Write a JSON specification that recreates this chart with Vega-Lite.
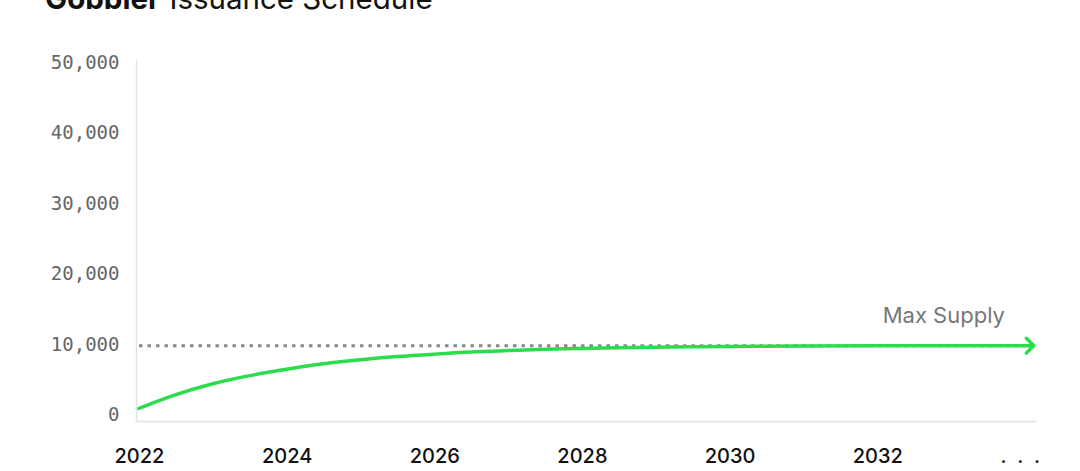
{
  "$schema": "https://vega.github.io/schema/vega-lite/v6.json",
  "width": 900,
  "height": 361,
  "autosize": {"type": "none"},
  "padding": {"left": 136, "top": 60, "right": 44, "bottom": 50},
  "background": "white",
  "config": {"view": {"stroke": null}},
  "title": {
    "text": "Gobbler",
    "subtitle": "\u200b\u00a0\u00a0\u00a0\u00a0\u00a0\u00a0\u00a0\u00a0\u00a0\u00a0\u00a0\u00a0\u00a0\u00a0\u00a0Issuance Schedule",
    "anchor": "start",
    "frame": "group",
    "dx": -91,
    "offset": 38,
    "font": "Inter",
    "fontSize": 29.5,
    "fontWeight": "bold",
    "color": "#111111",
    "subtitleFont": "Inter",
    "subtitleFontSize": 29.5,
    "subtitleFontWeight": "normal",
    "subtitleColor": "#111111",
    "subtitlePadding": -29.5
  },
  "datasets": {
    "curve": [
      {"year": 2022.0, "gobblers": 1100},
      {"year": 2022.5, "gobblers": 3050},
      {"year": 2023.0, "gobblers": 4600},
      {"year": 2023.5, "gobblers": 5750},
      {"year": 2024.0, "gobblers": 6650},
      {"year": 2024.5, "gobblers": 7420},
      {"year": 2025.0, "gobblers": 8000},
      {"year": 2025.5, "gobblers": 8450},
      {"year": 2026.0, "gobblers": 8800},
      {"year": 2026.5, "gobblers": 9100},
      {"year": 2027.0, "gobblers": 9300},
      {"year": 2027.5, "gobblers": 9480},
      {"year": 2028.0, "gobblers": 9600},
      {"year": 2028.5, "gobblers": 9700},
      {"year": 2029.0, "gobblers": 9780},
      {"year": 2029.5, "gobblers": 9840},
      {"year": 2030.0, "gobblers": 9890},
      {"year": 2031.0, "gobblers": 9950},
      {"year": 2032.0, "gobblers": 9990},
      {"year": 2034.1, "gobblers": 10000}
    ],
    "maxsupply": [
      {"start": 2022.0, "end": 2034.1, "supply": 10000, "label": "Max Supply", "labelYear": 2033.73}
    ],
    "arrow": [
      {"year": 2034.12, "gobblers": 10000}
    ]
  },
  "layer": [
    {
      "data": {"name": "maxsupply"},
      "mark": {"type": "rule", "color": "#888888", "strokeWidth": 3, "strokeDash": [3.5, 5]},
      "encoding": {
        "x": {
          "field": "start",
          "type": "quantitative",
          "scale": {"domain": [2021.96, 2034.15], "nice": false, "zero": false},
          "axis": {
            "values": [2022, 2024, 2026, 2028, 2030, 2032, 2033.93],
            "labelExpr": "datum.value > 2033 ? '.\u00a0\u00a0.\u00a0\u00a0.' : format(datum.value, 'd')",
            "title": null,
            "grid": false,
            "ticks": false,
            "domainColor": "#e2e2e2",
            "domainWidth": 1.5,
            "labelFont": "Inter",
            "labelFontSize": 20,
            "labelFontWeight": 500,
            "labelColor": "#111111",
            "labelPadding": 25,
            "labelBaseline": "top",
            "labelFlush": false,
            "labelOverlap": false
          }
        },
        "x2": {"field": "end"},
        "y": {
          "field": "supply",
          "type": "quantitative",
          "scale": {"domain": [-700, 50580], "nice": false, "zero": false},
          "axis": {
            "values": [0, 10000, 20000, 30000, 40000, 50000],
            "format": ",d",
            "title": null,
            "grid": false,
            "ticks": false,
            "domainColor": "#e2e2e2",
            "domainWidth": 1.5,
            "labelFont": "DejaVu Sans Mono",
            "labelFontSize": 19,
            "labelColor": "#666666",
            "labelPadding": 17,
            "labelOffset": -1.5,
            "labelFlush": false
          }
        }
      }
    },
    {
      "data": {"name": "curve"},
      "mark": {"type": "line", "color": "#2bdc4b", "strokeWidth": 3.5, "interpolate": "monotone", "strokeCap": "round"},
      "encoding": {
        "x": {"field": "year", "type": "quantitative"},
        "y": {"field": "gobblers", "type": "quantitative"}
      }
    },
    {
      "data": {"name": "arrow"},
      "mark": {"type": "point", "shape": "M-1,-1L0,0L-1,1", "filled": false, "color": "#2bdc4b", "strokeWidth": 3.5, "size": 220, "opacity": 1, "strokeCap": "round", "strokeJoin": "round"},
      "encoding": {
        "x": {"field": "year", "type": "quantitative"},
        "y": {"field": "gobblers", "type": "quantitative"}
      }
    },
    {
      "data": {"name": "maxsupply"},
      "mark": {"type": "text", "align": "right", "baseline": "alphabetic", "dy": -23, "font": "Inter", "fontSize": 22, "color": "#777777"},
      "encoding": {
        "x": {"field": "labelYear", "type": "quantitative"},
        "y": {"field": "supply", "type": "quantitative"},
        "text": {"field": "label"}
      }
    }
  ]
}
